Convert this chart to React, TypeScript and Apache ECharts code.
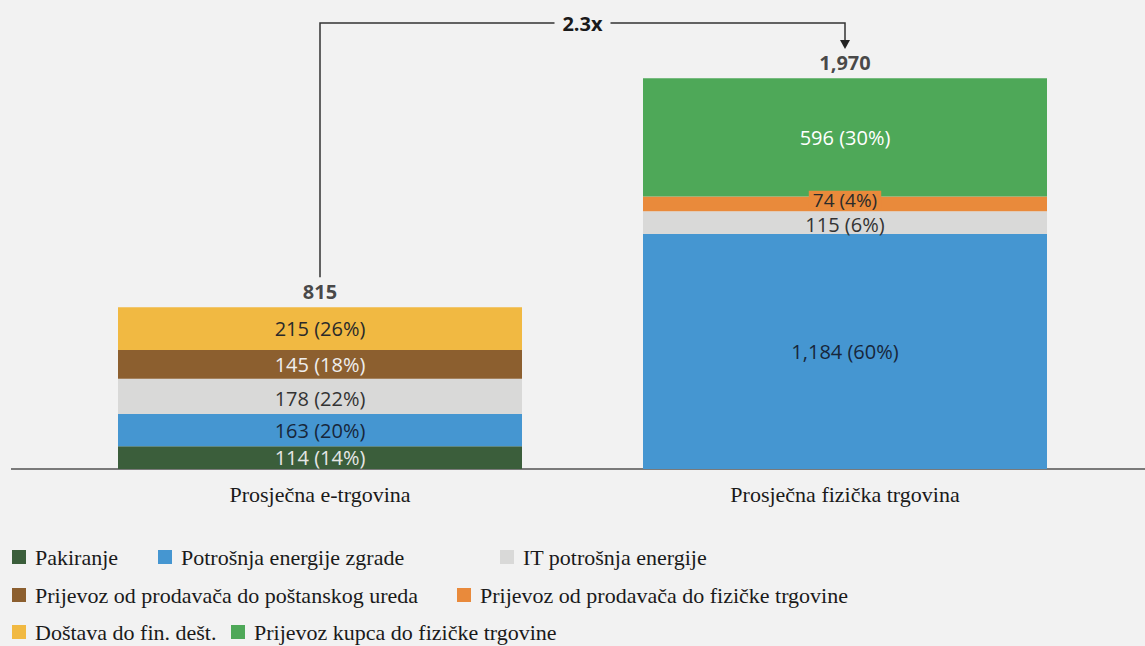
import React, { useEffect, useRef } from "react";
import * as echarts from "echarts";

const categories = ["Prosječna e-trgovina", "Prosječna fizička trgovina"];
const seriesNames = [
  "Pakiranje",
  "Potrošnja energije zgrade",
  "IT potrošnja energije",
  "Prijevoz od prodavača do poštanskog ureda",
  "Prijevoz od prodavača do fizičke trgovine",
  "Doštava do fin. dešt.",
  "Prijevoz kupca do fizičke trgovine",
];
const pakiranje = [114, null];
const potrosnjaZgrade = [163, 1184];
const itPotrosnja = [178, 115];
const prijevozPosta = [145, null];
const prijevozFizicka = [null, 74];
const dostava = [215, null];
const prijevozKupca = [null, 596];
const totals = [815, 1970];
const ratioLabel = "2.3x";

const seriesValues = [
  pakiranje,
  potrosnjaZgrade,
  itPotrosnja,
  prijevozPosta,
  prijevozFizicka,
  dostava,
  prijevozKupca,
];
const colors = ["#3b5e3b", "#4596d1", "#d9d9d8", "#8c5f2f", "#e98a3b", "#f1b942", "#4ea858"];
const labelColors = ["#e6e6e6", "#17263a", "#333333", "#eeeeee", "#2a2a2a", "#2a2a2a", "#ffffff"];

// legend layout: [left, top]
const legendPos: [number, number][] = [
  [12, 546],
  [158, 546],
  [500, 546],
  [12, 584],
  [457, 584],
  [12, 621],
  [231, 621],
];

const fmt = (v: number) => v.toLocaleString("en-US");

export default function App() {
  const ref = useRef<HTMLDivElement>(null);
  useEffect(() => {
    if (!ref.current) return;
    const chart = echarts.init(ref.current, undefined, { renderer: "svg" });
    const labelFont = "'Open Sans', 'Noto Sans', sans-serif";
    const serif = "'Liberation Serif', 'DejaVu Serif', serif";
    const barSeries = seriesNames.map((name, i) => ({
      name,
      type: "bar",
      stack: "total",
      barWidth: 404,
      data: seriesValues[i],
      itemStyle: { color: colors[i] },
      label: {
        show: true,
        position: "inside",
        fontFamily: labelFont,
        fontSize: 20,
        lineHeight: 19,
        color: labelColors[i],
        ...(i === 4
          ? {
              fontSize: 19,
              lineHeight: 18,
              backgroundColor: colors[i],
              padding: [0, 4, 0, 4],
              offset: [0, -4],
            }
          : {}),
        ...(i === 2 ? { offset: [0, 2] } : {}),
        formatter: (p: any) =>
          `${fmt(p.value)} (${Math.round((p.value / totals[p.dataIndex]) * 100)}%)`,
      },
    }));
    const option: any = {
      animation: false,
      backgroundColor: "#f2f2f2",
      grid: { left: 57.5, right: 37.5, top: 78, bottom: 177 },
      xAxis: {
        type: "category",
        data: categories,
        axisLine: { show: false },
        axisTick: { show: false },
        axisLabel: {
          fontFamily: serif,
          fontSize: 22,
          color: "#1a1a1a",
          margin: 14,
        },
      },
      yAxis: {
        type: "value",
        min: 0,
        max: 1970,
        show: false,
        splitLine: { show: false },
      },
      legend: seriesNames.map((n, i) => ({
        data: [n],
        left: legendPos[i][0],
        top: legendPos[i][1],
        icon: "rect",
        itemWidth: 14,
        itemHeight: 14,
        selectedMode: false,
        padding: 0,
        textStyle: {
          fontFamily: serif,
          fontSize: 22,
          color: "#1a1a1a",
          padding: [0, 0, 0, 4],
        },
      })),
      series: [
        ...barSeries,
        {
          type: "scatter",
          data: totals,
          symbolSize: 0,
          silent: true,
          label: {
            show: true,
            position: "top",
            distance: 6,
            fontFamily: labelFont,
            fontWeight: "bold",
            fontSize: 20,
            color: "#1a1a1a",
            formatter: (p: any) => fmt(p.value),
          },
        },
      ],
    };
    chart.setOption(option);

    const pL = chart.convertToPixel({ seriesIndex: 7 }, [0, totals[0]]) as number[];
    const pR = chart.convertToPixel({ seriesIndex: 7 }, [1, totals[1]]) as number[];
    const base = chart.convertToPixel({ seriesIndex: 7 }, [0, 0]) as number[];
    const topY = 23;
    const mid = (pL[0] + pR[0]) / 2;
    const lineStyle = { stroke: "#333333", lineWidth: 1.5, fill: null };
    chart.setOption({
      graphic: [
        {
          type: "line",
          shape: { x1: 11, y1: base[1], x2: 1145, y2: base[1] },
          style: { stroke: "#7a7a7a", lineWidth: 2 },
        },
        {
          type: "polyline",
          shape: { points: [[pL[0], pL[1] - 30], [pL[0], topY], [mid - 28, topY]] },
          style: lineStyle,
        },
        {
          type: "polyline",
          shape: { points: [[mid + 28, topY], [pR[0], topY], [pR[0], pR[1] - 37]] },
          style: lineStyle,
        },
        {
          type: "polygon",
          shape: { points: [[pR[0] - 5, pR[1] - 38], [pR[0] + 5, pR[1] - 38], [pR[0], pR[1] - 29]] },
          style: { fill: "#222222" },
        },
        {
          type: "text",
          x: mid,
          y: topY,
          style: {
            text: ratioLabel,
            fontFamily: labelFont,
            fontWeight: "bold",
            fontSize: 20,
            fill: "#1a1a1a",
            align: "center",
            verticalAlign: "middle",
          },
        },
      ],
    });
    return () => chart.dispose();
  }, []);
  return (
    <div
      ref={ref}
      style={{ position: "fixed", left: 0, top: 0, width: 1145, height: 646 }}
    />
  );
}
